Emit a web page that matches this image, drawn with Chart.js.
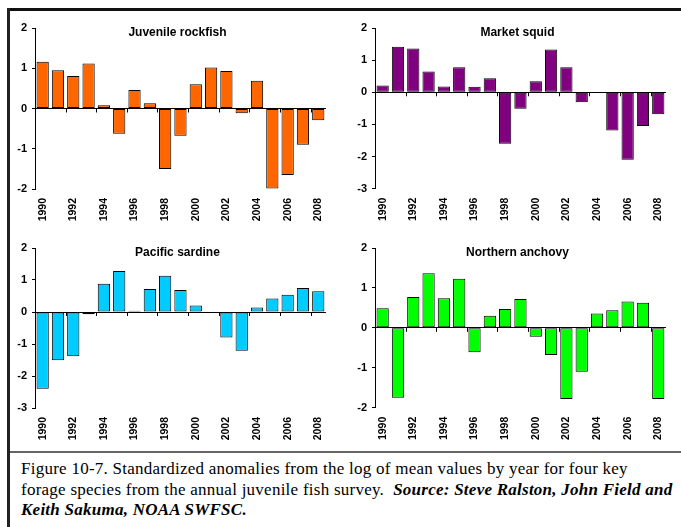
<!DOCTYPE html>
<html>
<head>
<meta charset="utf-8">
<script src="https://cdn.jsdelivr.net/npm/chart.js@4"></script>
<style>
  html, body { margin:0; padding:0; background:#fff; }
  body { width:681px; height:527px; position:relative; overflow:hidden; }
  #frameTop { position:absolute; left:7px; top:8px; width:680px; height:3px; background:#111; }
  #frameLeft { position:absolute; left:7px; top:8px; width:3px; height:530px; background:#222; }
  #sep { position:absolute; left:10px; top:451px; width:680px; height:2px; background:#666; }
  .pane { position:absolute; }
  #caption { position:absolute; left:21px; top:459px; width:670px; font-family:"Liberation Serif","Times New Roman",serif;
    font-size:17px; letter-spacing:0.25px; line-height:20.5px; color:#000; white-space:nowrap; }
  #caption b { font-style:italic; }
</style>
</head>
<body>
<div id="frameTop"></div>
<div id="frameLeft"></div>
<div id="sep"></div>
<canvas id="c1" class="pane" width="330" height="216" style="left:10px;top:12px"></canvas>
<canvas id="c2" class="pane" width="330" height="216" style="left:350px;top:12px"></canvas>
<canvas id="c3" class="pane" width="330" height="216" style="left:10px;top:232px"></canvas>
<canvas id="c4" class="pane" width="330" height="216" style="left:350px;top:232px"></canvas>
<div id="caption">Figure 10-7. Standardized anomalies from the log of mean values by year for four key<br>forage species from the annual juvenile fish survey.&nbsp; <b>Source: Steve Ralston, John Field and<br>Keith Sakuma, NOAA SWFSC.</b></div>
<script>
// ---- data ----
const years = ['1990','1991','1992','1993','1994','1995','1996','1997','1998','1999',
               '2000','2001','2002','2003','2004','2005','2006','2007','2008'];
const titles = ['Juvenile rockfish','Market squid','Pacific sardine','Northern anchovy'];
const rockfish = [1.16,0.95,0.81,1.12,0.08,-0.63,0.46,0.13,-1.50,-0.68,0.60,1.02,0.93,-0.12,0.69,-1.99,-1.65,-0.90,-0.29];
const squid    = [0.21,1.42,1.36,0.65,0.18,0.78,0.17,0.44,-1.60,-0.51,0.34,1.33,0.78,-0.31,null,-1.19,-2.10,-1.05,-0.68];
const sardine  = [-2.40,-1.51,-1.38,-0.07,0.88,1.28,0.04,0.72,1.13,0.69,0.20,-0.03,-0.80,-1.21,0.14,0.42,0.54,0.75,0.65];
const anchovy  = [0.49,-1.75,0.77,1.37,0.74,1.23,-0.61,0.30,0.47,0.72,-0.22,-0.68,-1.78,-1.10,0.36,0.44,0.66,0.63,-1.78];
const yRanges  = [[-2,2],[-3,2],[-3,2],[-2,2]];

// ---- styling ----
const FONT = '"Liberation Sans", Arial, sans-serif';
const colors = ['#FF6600','#800080','#00CCFF','#00FF00'];
const axisHeights = [39, 39.3, 40, 40.3];

const decor = {
  id: 'decor',
  afterDatasetsDraw(chart, args, opts) {
    const { ctx, chartArea, scales: { x, y } } = chart;
    ctx.save();
    const y0 = y.getPixelForValue(0);
    ctx.strokeStyle = '#000';
    ctx.lineWidth = 1;
    for (let i = 2; i < years.length; i += 2) {
      const xb = Math.round((x.getPixelForValue(i - 1) + x.getPixelForValue(i)) / 2) + 0.5;
      ctx.beginPath();
      ctx.moveTo(xb, y0);
      ctx.lineTo(xb, y0 + 4);
      ctx.stroke();
    }
    ctx.fillStyle = '#000';
    ctx.font = 'bold 12px ' + FONT;
    ctx.textAlign = 'center';
    ctx.textBaseline = 'middle';
    ctx.fillText(opts.title, (chartArea.left + chartArea.right) / 2 - 3, chartArea.top + 5);
    ctx.restore();
  }
};

function makeChart(id, idx, data) {
  const [yMin, yMax] = yRanges[idx];
  return new Chart(document.getElementById(id), {
    type: 'bar',
    data: {
      labels: years,
      datasets: [{
        data: data,
        backgroundColor: colors[idx],
        borderColor: '#000',
        borderWidth: 1,
        borderSkipped: false,
        categoryPercentage: 1.0,
        barPercentage: 0.8
      }]
    },
    options: {
      responsive: false,
      animation: false,
      events: [],
      layout: { padding: { top: 16, right: 5, left: 0, bottom: 0 } },
      plugins: {
        legend: { display: false },
        tooltip: { enabled: false },
        decor: { title: titles[idx] }
      },
      scales: {
        x: {
          grid: { display: false, drawTicks: false },
          border: { display: false },
          ticks: {
            autoSkip: false,
            maxRotation: 90,
            minRotation: 90,
            padding: 9,
            color: '#000',
            font: { family: FONT, size: 10.5, weight: 'bold' },
            callback: (v, i) => (i % 2 === 0 ? years[i] : '')
          },
          afterFit: (s) => { s.height = axisHeights[idx]; }
        },
        y: {
          min: yMin,
          max: yMax,
          border: { display: true, color: '#000', width: 1 },
          grid: {
            drawOnChartArea: true,
            drawTicks: true,
            tickLength: 3,
            tickColor: '#000',
            color: (c) => (c.tick && c.tick.value === 0 ? '#000' : 'rgba(0,0,0,0)')
          },
          ticks: {
            stepSize: 1,
            padding: 5,
            color: '#000',
            font: { family: FONT, size: 11, weight: 'bold' }
          },
          afterFit: (s) => { s.width = 25; }
        }
      }
    },
    plugins: [decor]
  });
}

makeChart('c1', 0, rockfish);
makeChart('c2', 1, squid);
makeChart('c3', 2, sardine);
makeChart('c4', 3, anchovy);
</script>
</body>
</html>
